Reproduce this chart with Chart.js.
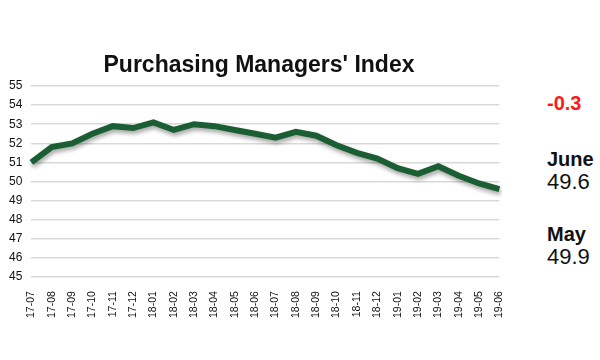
<!DOCTYPE html>
<html>
<head>
<meta charset="utf-8">
<script src="https://cdn.jsdelivr.net/npm/chart.js@4/dist/chart.umd.min.js"></script>
<style>
    body { margin: 0; background: #fff; font-family: "Liberation Sans", Arial, sans-serif; }
    #wrap { position: relative; width: 600px; height: 360px; }
    #box { position: absolute; left: 0; top: 0; width: 518px; height: 360px; }
    #title { position: absolute; left: 0; top: 53px; width: 518px; text-align: center;
        font-size: 23px; font-weight: bold; color: #111; line-height: 1; }
    .side { position: absolute; left: 547px; color: #111; line-height: 1; }
    .chg { color: #ff1a1a; font-weight: bold; font-size: 20px; top: 93px; }
    .mon { font-weight: bold; font-size: 20px; }
    .val { font-size: 22px; }
</style>
</head>
<body>
<div id="wrap">
    <div id="box"><canvas id="pmi-chart"></canvas></div>
    <div id="title">Purchasing Managers' Index</div>
    <div class="side chg">-0.3</div>
    <div class="side mon" style="top:149px">June</div>
    <div class="side val" style="top:171px">49.6</div>
    <div class="side mon" style="top:224px">May</div>
    <div class="side val" style="top:246px">49.9</div>
</div>
<script>
    let months = ['17-07', '17-08', '17-09', '17-10', '17-11', '17-12',
        '18-01', '18-02', '18-03', '18-04', '18-05', '18-06',
        '18-07', '18-08', '18-09', '18-10', '18-11', '18-12',
        '19-01', '19-02', '19-03', '19-04', '19-05', '19-06'];
    let pmi = [51.0, 51.8, 52.0, 52.5, 52.9, 52.8,
        53.1, 52.7, 53.0, 52.9, 52.7, 52.5,
        52.3, 52.6, 52.4, 51.9, 51.5, 51.2,
        50.7, 50.4, 50.8, 50.3, 49.9, 49.6];
    let yTicks = [45, 46, 47, 48, 49, 50, 51, 52, 53, 54, 55];

    // soft grey shadow under the line, like the original
    let lineShadow = {
        id: 'lineShadow',
        beforeDatasetDraw: function (chart) {
            let ctx = chart.ctx;
            ctx.save();
            ctx.shadowColor = 'rgba(0,0,0,0.35)';
            ctx.shadowBlur = 4;
            ctx.shadowOffsetX = 1;
            ctx.shadowOffsetY = 3;
        },
        afterDatasetDraw: function (chart) {
            chart.ctx.restore();
        }
    };

    new Chart(document.getElementById('pmi-chart'), {
        type: 'line',
        data: {
            labels: months,
            datasets: [{
                label: 'PMI',
                data: pmi,
                borderColor: '#1c5e33',
                borderWidth: 6,
                pointRadius: 0,
                tension: 0,
                fill: false
            }]
        },
        options: {
            responsive: true,
            maintainAspectRatio: false,
            animation: false,
            layout: { padding: { top: 86, right: 17, bottom: 36, left: 0 } },
            plugins: {
                legend: { display: false },
                tooltip: { enabled: false }
            },
            scales: {
                x: {
                    offset: false,
                    grid: { display: false },
                    border: { display: false },
                    ticks: {
                        color: '#111',
                        font: { family: 'Liberation Sans', size: 10.5 },
                        minRotation: 90,
                        maxRotation: 90,
                        autoSkip: false,
                        padding: 6
                    }
                },
                y: {
                    min: yTicks[0],
                    max: yTicks[yTicks.length - 1],
                    afterBuildTicks: function (axis) {
                        axis.ticks = yTicks.map(function (v) { return { value: v }; });
                    },
                    grid: { color: '#d9d9d9', lineWidth: 1.5, drawTicks: false },
                    border: { display: false },
                    ticks: {
                        color: '#111',
                        font: { family: 'Liberation Sans', size: 12 },
                        autoSkip: false,
                        padding: 9
                    }
                }
            }
        },
        plugins: [lineShadow]
    });
</script>
</body>
</html>
